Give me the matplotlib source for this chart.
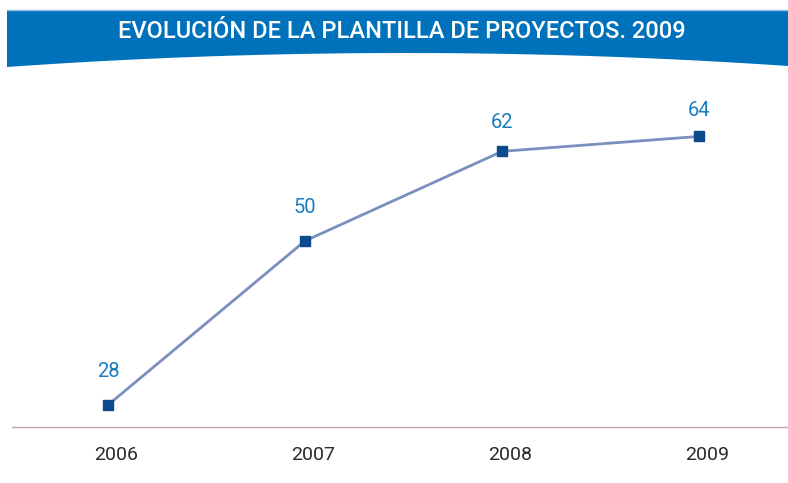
import numpy as np
import matplotlib
matplotlib.use('Agg')
import matplotlib.pyplot as plt
import matplotlib.transforms as mtransforms
from matplotlib.patches import Polygon

# Datos de la plantilla
anios = ['2006', '2007', '2008', '2009']
plantilla = [28, 50, 62, 64]
titulo = 'EVOLUCIÓN DE LA PLANTILLA DE PROYECTOS. 2009'

plt.rcParams['font.family'] = ['Roboto', 'DejaVu Sans']

W, H = 788, 483
fig = plt.figure(figsize=(W / 100, H / 100), dpi=100)

# Fondo en coordenadas de píxel para la cabecera
bg = fig.add_axes([0, 0, 1, 1])
bg.set_xlim(0, W)
bg.set_ylim(H, 0)
bg.axis('off')

# Banda azul con borde inferior curvo
xs = np.linspace(7, W, 60)
a = np.polyfit([7, 400, W], [67, 53, 66], 2)
ys = np.polyval(a, xs)
pts = [(7, 10), (W, 10)] + list(zip(xs[::-1], ys[::-1]))
bg.add_patch(Polygon(pts, closed=True, facecolor='#0072bc', edgecolor='none'))
bg.plot([7, W], [9.5, 9.5], color='#8fbbe0', lw=1)
bg.text(402, 31, titulo, color='white', fontsize=17, fontweight='medium',
        ha='center', va='center')

# Gráfico de línea
ax = fig.add_axes([12 / W, 1 - 427 / H, (W - 12) / W, (427 - 70) / H])
x = np.arange(len(anios))
ax.plot(x, plantilla, color='#7b8fbf', lw=2, zorder=2)
ax.plot(x, plantilla, ls='none', marker='s', ms=7.5, color='#0b4a8c', zorder=3)

# Separación de cada etiqueta respecto a su punto (pt)
desplaz = [24, 24, 21, 19]
for xi, v, d in zip(x, plantilla, desplaz):
    ax.annotate(str(v), (xi, v), xytext=(0, d), textcoords='offset points',
                ha='center', va='center', color='#1a7cc0', fontsize=14.5)

ax.set_xlim(-0.487, 3.45)
ax.set_ylim(25.05, 72.9)
ax.set_xticks(x)
ax.set_xticklabels(anios, fontsize=14, color='#2a2a2a')
ax.set_yticks([])
ax.tick_params(axis='x', length=0, pad=14)
offset = mtransforms.ScaledTranslation(8 / 100, 0, fig.dpi_scale_trans)
for lbl in ax.get_xticklabels():
    lbl.set_transform(lbl.get_transform() + offset)
for s in ['top', 'left', 'right']:
    ax.spines[s].set_visible(False)
ax.spines['bottom'].set_color('#c9a3b5')
ax.spines['bottom'].set_linewidth(1)
ax.patch.set_alpha(0)

fig.savefig('out.png', dpi=100)
